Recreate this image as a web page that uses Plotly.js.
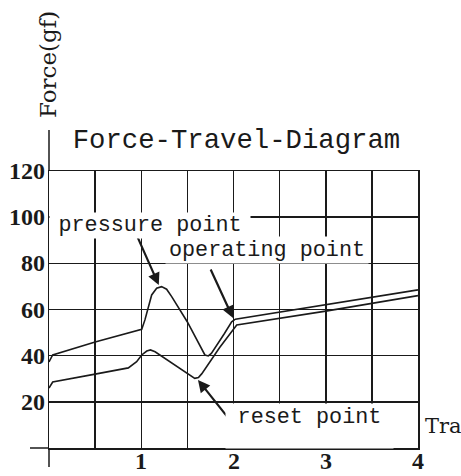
<!DOCTYPE html>
<html>
<head>
<meta charset="utf-8">
<script src="https://cdn.plot.ly/plotly-3.0.1.min.js"></script>
<style>html,body{margin:0;padding:0;background:#fff;}#chart{width:461px;height:476px;}</style>
</head>
<body>
<div id="chart"></div>
<script>
// Travel (mm) and force (gf)
const pressTravel = [0, 0.04, 0.5, 0.99, 1.005, 1.04, 1.077, 1.113, 1.167, 1.22, 1.275, 1.33, 1.5, 1.655, 1.69, 1.727, 1.76, 1.9, 1.98, 2.02, 3.0, 4.0];
const pressForce  = [37.3, 40.3, 45.9, 51.2, 51.4, 55.5, 61.2, 66.3, 69.2, 69.9, 68.8, 65.6, 54.6, 42.5, 40.3, 39.9, 41.0, 49.5, 54.7, 55.8, 62.1, 68.5];
const releaseTravel = [0, 0.04, 0.5, 0.86, 0.95, 1.005, 1.06, 1.10, 1.15, 1.35, 1.53, 1.58, 1.62, 1.655, 1.85, 2.0, 2.035, 3.0, 4.0];
const releaseForce  = [26.0, 28.6, 32.0, 34.7, 37.4, 40.3, 42.0, 42.5, 41.7, 36.5, 31.6, 30.2, 30.5, 32.1, 43.5, 51.4, 53.3, 59.3, 66.0];
const xTickVals = [1, 2, 3, 4];
const xTickText = ['1', '2', '3', '4'];
const yTickVals = [20, 40, 60, 80, 100, 120];
const yTickText = ['20', '40', '60', '80', '100', '120'];

const INK = '#1a1a1a';
const monoFont = {family: 'Liberation Mono, monospace', size: 21.8, color: INK};
const serifBold = (size) => ({family: 'Liberation Serif, serif', size: size, color: INK, weight: 'bold'});
const serifReg = (size) => ({family: 'DejaVu Serif, serif', size: size, color: INK});

const traces = [
  {x: pressTravel, y: pressForce, mode: 'lines', line: {color: INK, width: 1.6}, hoverinfo: 'skip'},
  {x: releaseTravel, y: releaseForce, mode: 'lines', line: {color: INK, width: 1.6}, hoverinfo: 'skip'}
];

// tick labels drawn as annotations so they sit exactly where the reference has them
const xTickAnn = xTickVals.map((v, i) => ({
  text: xTickText[i], xref: 'x', yref: 'paper', x: v, y: -13/277,
  xanchor: 'center', yanchor: 'middle', showarrow: false, font: serifBold(24)
}));
const yTickAnn = yTickVals.map((v, i) => ({
  text: yTickText[i], xref: 'paper', yref: 'y', x: -2/369, y: v,
  xanchor: 'right', yanchor: 'middle', showarrow: false, font: serifBold(24)
}));

const layout = {
  width: 461, height: 476,
  margin: {l: 49, r: 43, t: 171, b: 28},
  paper_bgcolor: '#fff', plot_bgcolor: '#fff',
  showlegend: false,
  title: {
    text: 'Force-Travel-Diagram',
    font: {family: 'Liberation Mono, monospace', size: 27.3, color: INK},
    xref: 'paper', x: 0.508, xanchor: 'center',
    yref: 'container', y: 1 - 138/476, yanchor: 'middle'
  },
  xaxis: {
    range: [0, 4], fixedrange: true,
    tickmode: 'array', tickvals: xTickVals, ticktext: xTickText, showticklabels: false,
    ticks: '', showgrid: true, gridcolor: INK, gridwidth: 1.5,
    minor: {dtick: 0.5, tick0: 0, showgrid: true, gridcolor: INK, gridwidth: 1.5, ticks: ''},
    showline: true, mirror: true, linecolor: INK, linewidth: 1.5,
    zeroline: false
  },
  yaxis: {
    range: [0, 120], fixedrange: true,
    tickmode: 'array', tickvals: yTickVals, ticktext: yTickText, showticklabels: false,
    ticks: '', showgrid: true, gridcolor: INK, gridwidth: 1.5,
    showline: true, mirror: true, linecolor: INK, linewidth: 1.5,
    zeroline: false
  },
  shapes: [
    {type: 'line', xref: 'paper', yref: 'paper', x0: -0.0515, x1: 0, y0: 0, y1: 0, line: {color: INK, width: 1.5}},
    {type: 'line', xref: 'paper', yref: 'paper', x0: 0, x1: 0, y0: 1, y1: 1.148, line: {color: INK, width: 1.5}},
    {type: 'line', xref: 'paper', yref: 'paper', x0: 0, x1: 0, y0: -0.0686, y1: 0, line: {color: INK, width: 1.5}}
  ],
  annotations: [
    ...xTickAnn, ...yTickAnn,
    {text: 'Force(gf)', textangle: -90, xref: 'paper', yref: 'paper', x: -0.003, y: 1.386,
     xanchor: 'center', yanchor: 'middle', showarrow: false, font: serifReg(23)},
    {text: 'Tra', xref: 'paper', yref: 'paper', x: 1.0136, y: 0.079,
     xanchor: 'left', yanchor: 'middle', showarrow: false, font: serifReg(21)},
    // arrows
    {text: '', xref: 'x', yref: 'y', axref: 'x', ayref: 'y', x: 1.19, y: 70.6, ax: 0.954, ay: 91.9,
     showarrow: true, arrowhead: 2, arrowsize: 1.1, arrowwidth: 2.2, arrowcolor: INK, standoff: 0},
    {text: '', xref: 'x', yref: 'y', axref: 'x', ayref: 'y', x: 1.995, y: 56.3, ax: 1.745, ay: 78.0,
     showarrow: true, arrowhead: 2, arrowsize: 1.1, arrowwidth: 2.2, arrowcolor: INK, standoff: 0},
    {text: '', xref: 'x', yref: 'y', axref: 'x', ayref: 'y', x: 1.615, y: 29.5, ax: 1.962, ay: 12.1,
     showarrow: true, arrowhead: 2, arrowsize: 1.1, arrowwidth: 2.2, arrowcolor: INK, standoff: 0},
    // labels
    {text: 'pressure point', xref: 'x', yref: 'y', x: 1.095, y: 96.4, showarrow: false,
     bgcolor: '#fff', width: 200, height: 25, borderpad: 0, font: monoFont},
    {text: 'operating point', xref: 'x', yref: 'y', x: 2.358, y: 85.8, showarrow: false,
     bgcolor: '#fff', width: 202, height: 26, borderpad: 0, font: monoFont},
    {text: 'reset point', xref: 'x', yref: 'y', x: 2.829, y: 19.4, yanchor: 'top', valign: 'top',
     showarrow: false, bgcolor: '#fff', width: 165, height: 42, borderpad: 1, font: monoFont}
  ]
};

Plotly.newPlot('chart', traces, layout, {staticPlot: true, displayModeBar: false});
</script>
</body>
</html>
